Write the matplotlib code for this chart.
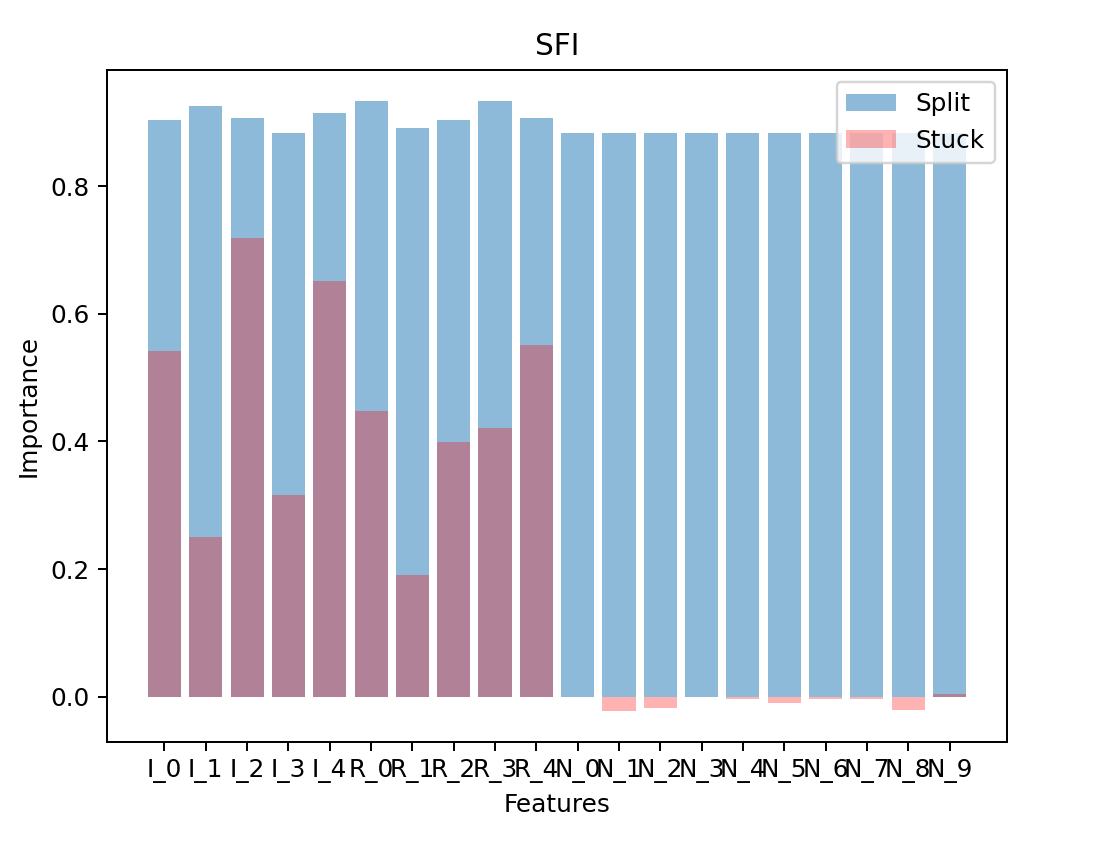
import matplotlib
matplotlib.use('Agg')
import matplotlib.pyplot as plt
import numpy as np

features = ['I_0', 'I_1', 'I_2', 'I_3', 'I_4',
            'R_0', 'R_1', 'R_2', 'R_3', 'R_4',
            'N_0', 'N_1', 'N_2', 'N_3', 'N_4',
            'N_5', 'N_6', 'N_7', 'N_8', 'N_9']
split = [0.903, 0.926, 0.906, 0.883, 0.914,
         0.934, 0.891, 0.903, 0.934, 0.906,
         0.883, 0.883, 0.883, 0.883, 0.883,
         0.883, 0.883, 0.883, 0.883, 0.883]
stuck = [0.542, 0.250, 0.718, 0.316, 0.652,
         0.448, 0.191, 0.399, 0.421, 0.551,
         0.000, -0.023, -0.018, 0.000, -0.003,
         -0.009, -0.003, -0.003, -0.020, 0.005]

dpi = 178
fig = plt.figure(figsize=(1112 / dpi, 846 / dpi), dpi=dpi)
ax = fig.add_axes([107 / 1112, 1 - 742 / 846, 900 / 1112, 672 / 846])

x = np.arange(len(features))
ax.bar(x, split, alpha=0.5, label='Split')
ax.bar(x, stuck, color='red', alpha=0.3, label='Stuck')

ax.set_xticks(x)
ax.set_xticklabels(features)
ax.set_title('SFI')
ax.set_xlabel('Features')
ax.set_ylabel('Importance')
ax.legend(loc='upper right')

fig.savefig('out.png', dpi=dpi)
